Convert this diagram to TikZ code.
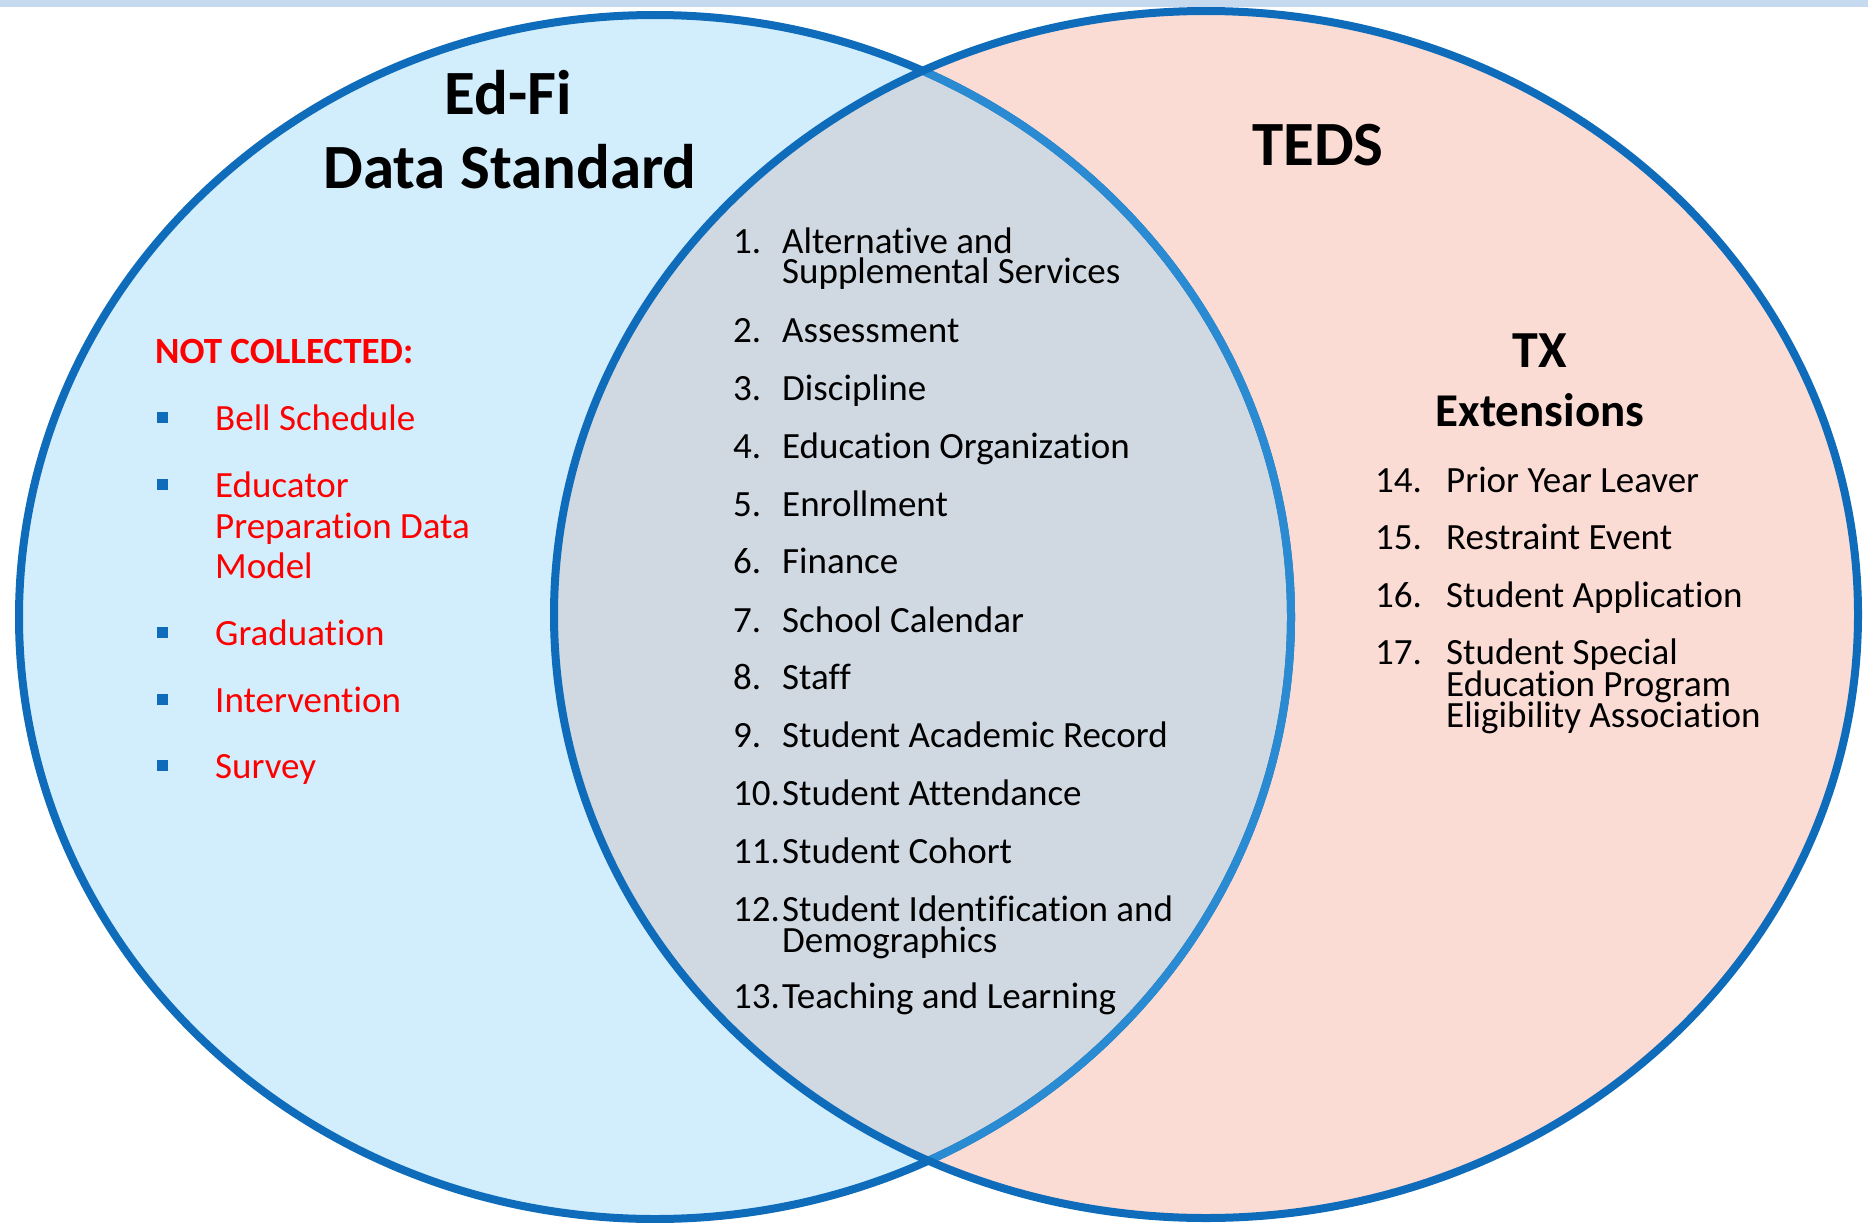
\documentclass[tikz,border=0pt]{standalone}
\usepackage{fontspec}
\setmainfont{Carlito}[Ligatures={NoCommon,NoRequired,NoContextual,NoRare},RawFeature={-liga,-clig,-rlig,-calt,-dlig}]
\definecolor{barc}{RGB}{197,218,238}
\definecolor{lfill}{RGB}{210,238,253}
\definecolor{rfill}{RGB}{250,220,213}
\definecolor{ofill}{RGB}{208,216,225}
\definecolor{ring}{RGB}{15,108,186}
\definecolor{ringlight}{RGB}{42,138,210}
\definecolor{redtxt}{RGB}{255,0,0}
\begin{document}
\begin{tikzpicture}[x=1pt,y=-1pt,
  item/.style={anchor=base west, inner sep=0pt, font=\fontsize{37}{37}\selectfont},
  reditem/.style={item, text=redtxt},
  titletxt/.style={anchor=base, inner sep=0pt, font=\fontsize{63}{63}\selectfont\bfseries},
  bulletsq/.style={fill=ring, minimum size=11pt, inner sep=0pt, draw=none},
  ringline/.style={line width=8pt}]
\useasboundingbox (0,0) rectangle (1868,1223);
\fill[barc] (0,0) rectangle (1868,7);
% fills
\fill[lfill] (655,617) ellipse [x radius=636, y radius=602];
\fill[rfill] (1206,614.5) ellipse [x radius=652, y radius=603.5];
\begin{scope}
  \clip (655,617) ellipse [x radius=636, y radius=602];
  \fill[ofill] (1206,614.5) ellipse [x radius=652, y radius=603.5];
\end{scope}
% strokes
\draw[ring, ringline] (655,617) ellipse [x radius=636, y radius=602];
\begin{scope}
  \clip (1206,614.5) ellipse [x radius=652, y radius=603.5];
  \draw[ringlight, ringline] (655,617) ellipse [x radius=636, y radius=602];
\end{scope}
\draw[ring, ringline] (1206,614.5) ellipse [x radius=652, y radius=603.5];

% titles
\node[titletxt] (edfi) at (508,114) {Ed-Fi};
\node[titletxt] (datastd) at (510,188) {Data Standard};
\node[titletxt] (teds) at (1318,165) {TEDS};
\node[anchor=base, inner sep=0pt, font=\fontsize{52}{52}\selectfont\bfseries] (tx) at (1540,367) {TX};
\node[anchor=base, inner sep=0pt, font=\fontsize{47}{47}\selectfont\bfseries] (ext) at (1540,426) {Extensions};

% not collected
\node[reditem, font=\fontsize{37}{37}\selectfont\bfseries] (nc) at (155,363) {NOT COLLECTED:};
\node[bulletsq] (b1) at (162.5,417) {};
\node[bulletsq] (b2) at (162.5,484) {};
\node[bulletsq] (b3) at (162.5,632) {};
\node[bulletsq] (b4) at (162.5,699) {};
\node[bulletsq] (b5) at (162.5,765) {};
\node[reditem] (r1) at (215,430) {Bell Schedule};
\node[reditem] (r2a) at (215,497) {Educator};
\node[reditem] (r2b) at (215,538) {Preparation Data};
\node[reditem] (r2c) at (215,578) {Model};
\node[reditem] (r3) at (215,645) {Graduation};
\node[reditem] (r4) at (215,712) {Intervention};
\node[reditem] (r5) at (215,778) {Survey};

% middle list
\node[item] (n1) at (733,253) {1.};
\node[item] (m1a) at (782,253) {Alternative and};
\node[item] (m1b) at (782,283) {Supplemental Services};
\node[item] (n2) at (733,342) {2.};
\node[item] (m2) at (782,342) {Assessment};
\node[item] (n3) at (733,400) {3.};
\node[item] (m3) at (782,400) {Discipline};
\node[item] (n4) at (733,458) {4.};
\node[item] (m4) at (782,458) {Education Organization};
\node[item] (n5) at (733,516) {5.};
\node[item] (m5) at (782,516) {Enrollment};
\node[item] (n6) at (733,573) {6.};
\node[item] (m6) at (782,573) {Finance};
\node[item] (n7) at (733,632) {7.};
\node[item] (m7) at (782,632) {School Calendar};
\node[item] (n8) at (733,689) {8.};
\node[item] (m8) at (782,689) {Staff};
\node[item] (n9) at (733,747) {9.};
\node[item] (m9) at (782,747) {Student Academic Record};
\node[item] (n10) at (733,805) {10.};
\node[item] (m10) at (782,805) {Student Attendance};
\node[item] (n11) at (733,863) {11.};
\node[item] (m11) at (782,863) {Student Cohort};
\node[item] (n12) at (733,921) {12.};
\node[item] (m12a) at (782,921) {Student Identification and};
\node[item] (m12b) at (782,952) {Demographics};
\node[item] (n13) at (733,1008) {13.};
\node[item] (m13) at (782,1008) {Teaching and Learning};

% right list
\node[item] (n14) at (1375,492) {14.};
\node[item] (t14) at (1446,492) {Prior Year Leaver};
\node[item] (n15) at (1375,549) {15.};
\node[item] (t15) at (1446,549) {Restraint Event};
\node[item] (n16) at (1375,607) {16.};
\node[item] (t16) at (1446,607) {Student Application};
\node[item] (n17) at (1375,664) {17.};
\node[item] (t17a) at (1446,664) {Student Special};
\node[item] (t17b) at (1446,696) {Education Program};
\node[item] (t17c) at (1446,727) {Eligibility Association};
\end{tikzpicture}
\end{document}
